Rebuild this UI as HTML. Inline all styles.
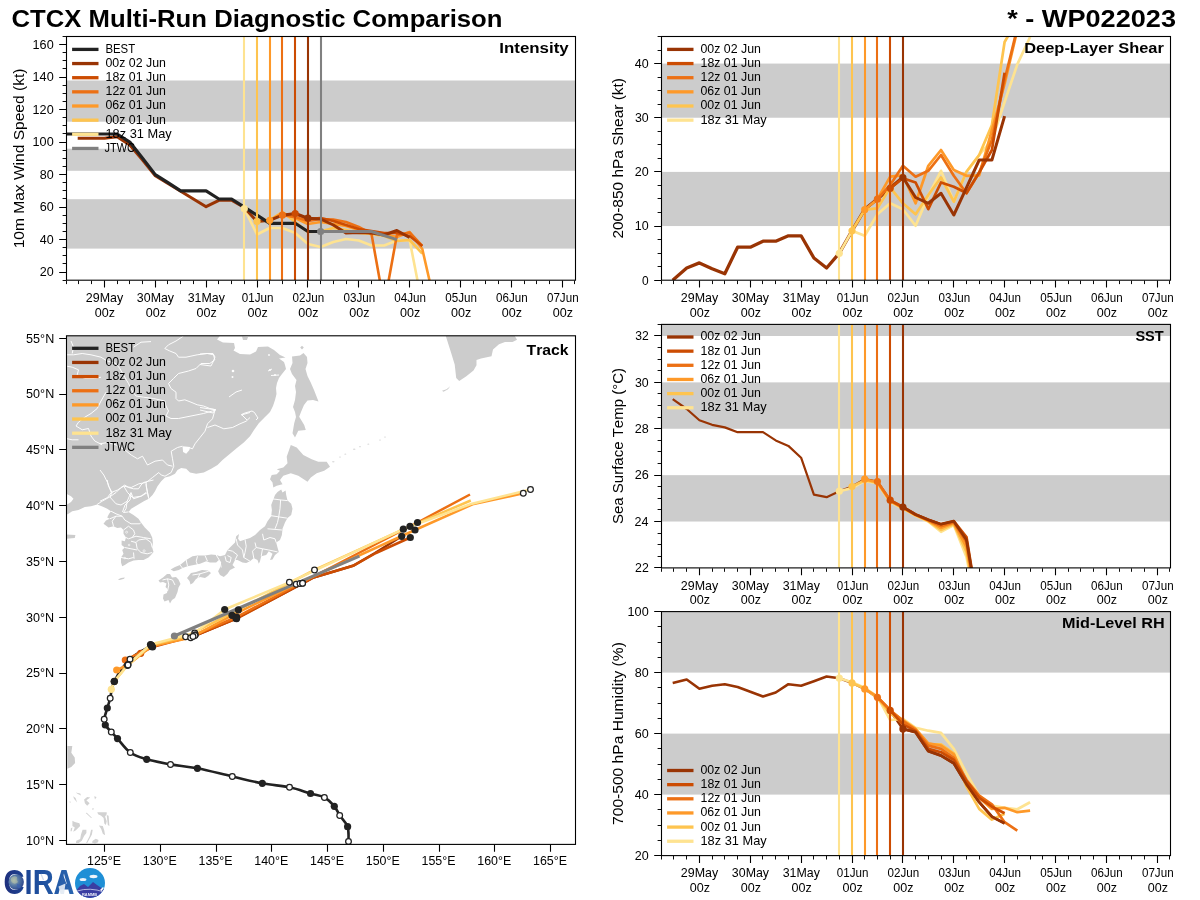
<!DOCTYPE html>
<html><head><meta charset="utf-8"><title>CTCX Multi-Run Diagnostic Comparison - WP022023</title>
<style>html,body{margin:0;padding:0;background:#fff}body{width:1200px;height:900px;overflow:hidden;font-family:"Liberation Sans",sans-serif}svg{display:block;will-change:transform}text{font-kerning:none;font-family:"Liberation Sans",sans-serif}</style></head>
<body>
<svg width="1200" height="900" viewBox="0 0 1200 900" font-family="'Liberation Sans', sans-serif">
<rect width="1200" height="900" fill="#fff"/>
<text x="11.55" y="27.00" font-size="23.44" textLength="490.90" lengthAdjust="spacingAndGlyphs" font-weight="bold">CTCX Multi-Run Diagnostic Comparison</text>
<text x="1007.24" y="27.00" font-size="23.56" textLength="168.74" lengthAdjust="spacingAndGlyphs" font-weight="bold">* - WP022023</text>
<clipPath id="cp_int"><rect x="66.50" y="36.50" width="509.00" height="243.70"/></clipPath>
<g clip-path="url(#cp_int)">
<rect x="66.5" y="199.2" width="509" height="49.4" fill="#cccccc"/>
<rect x="66.5" y="148.7" width="509" height="22.1" fill="#cccccc"/>
<rect x="66.5" y="80.5" width="509" height="41.2" fill="#cccccc"/>
<path d="M244.3 208.7 L257.0 234.5 L269.7 228.0 L282.4 228.0 L295.2 233.0 L307.9 244.0 L320.6 247.0 L333.3 242.0 L346.0 239.0 L358.8 240.5 L371.5 245.5 L384.2 245.5 L396.9 240.5 L409.6 240.0 L422.3 305.0" fill="none" stroke="#fee391" stroke-width="2.60" stroke-linejoin="round" />
<path d="M257.0 221.5 L269.7 220.0 L282.4 212.0 L295.2 222.0 L307.9 232.0 L320.6 231.5 L333.3 228.0 L346.0 230.0 L358.8 233.0 L371.5 234.0 L384.2 236.0 L396.9 241.0 L409.6 240.0 L422.3 253.5" fill="none" stroke="#fec44f" stroke-width="2.60" stroke-linejoin="round" />
<path d="M269.7 220.3 L282.4 213.0 L295.2 218.0 L307.9 224.0 L320.6 222.0 L333.3 224.0 L346.0 226.0 L358.8 230.0 L371.5 232.0 L384.2 234.0 L396.9 237.0 L409.6 232.0 L422.3 249.0 L435.1 305.0" fill="none" stroke="#fe9929" stroke-width="2.60" stroke-linejoin="round" />
<path d="M282.4 215.2 L295.2 217.0 L307.9 221.0 L320.6 219.0 L333.3 219.5 L346.0 222.0 L358.8 227.0 L371.5 234.0 L384.2 305.0 L396.9 235.0 L409.6 232.5 L422.3 246.0" fill="none" stroke="#ec7014" stroke-width="2.60" stroke-linejoin="round" />
<path d="M295.2 213.5 L307.9 219.0 L320.6 218.0 L333.3 221.0 L346.0 225.0 L358.8 229.0 L371.5 231.0 L384.2 233.0 L396.9 233.0 L409.6 236.0 L422.3 246.0" fill="none" stroke="#cc4c02" stroke-width="2.60" stroke-linejoin="round" />
<path d="M77.7 138.3 L91.7 138.3 L104.4 138.3 L117.1 136.7 L129.8 145.0 L142.6 160.1 L155.3 175.8 L168.0 183.5 L180.7 191.2 L193.4 199.0 L206.1 206.7 L218.9 200.3 L231.6 200.3 L244.3 207.5 L257.0 221.5 L269.7 220.3 L282.4 215.2 L295.2 213.5 L307.9 218.2 L320.6 219.0 L333.3 225.0 L346.0 233.0 L358.8 232.5 L371.5 233.0 L384.2 235.0 L396.9 230.5 L409.6 237.5" fill="none" stroke="#993404" stroke-width="3.00" stroke-linejoin="round" />
<path d="M66.2 134.0 L79.0 134.0 L91.7 134.0 L104.4 134.0 L117.1 134.0 L129.8 142.1 L142.6 158.3 L155.3 174.6 L168.0 182.7 L180.7 190.8 L193.4 190.8 L206.1 190.8 L218.9 199.0 L231.6 199.0 L244.3 207.1 L257.0 215.2 L269.7 223.3 L282.4 223.3 L295.2 223.3 L307.9 231.5 L320.6 231.5" fill="none" stroke="#222222" stroke-width="3.15" stroke-linejoin="round" />
<path d="M320.6 231.5 L371.5 231.5 L396.9 239.6" fill="none" stroke="#808080" stroke-width="3.00" stroke-linejoin="round" />
<path d="M244.00 36.50V280.20" stroke="#fee391" stroke-width="2.08" fill="none"/>
<path d="M257.00 36.50V280.20" stroke="#fec44f" stroke-width="2.08" fill="none"/>
<path d="M270.00 36.50V280.20" stroke="#fe9929" stroke-width="2.08" fill="none"/>
<path d="M282.00 36.50V280.20" stroke="#ec7014" stroke-width="2.08" fill="none"/>
<path d="M295.00 36.50V280.20" stroke="#cc4c02" stroke-width="2.08" fill="none"/>
<path d="M308.00 36.50V280.20" stroke="#993404" stroke-width="2.08" fill="none"/>
<path d="M321.00 36.50V280.20" stroke="#808080" stroke-width="2.08" fill="none"/>
<circle cx="244.3" cy="208.7" r="3.60" fill="#fee391"/>
<circle cx="257.0" cy="221.5" r="3.60" fill="#fec44f"/>
<circle cx="269.7" cy="220.3" r="3.60" fill="#fe9929"/>
<circle cx="282.4" cy="215.2" r="3.60" fill="#ec7014"/>
<circle cx="295.2" cy="213.5" r="3.60" fill="#cc4c02"/>
<circle cx="307.9" cy="218.2" r="3.60" fill="#993404"/>
<circle cx="320.6" cy="231.5" r="3.60" fill="#808080"/>
</g>
<rect x="66.50" y="36.50" width="509.00" height="243.70" fill="none" stroke="#000" stroke-width="1.1"/>
<path d="M104.50 280.60v6.9M155.50 280.60v6.9M206.50 280.60v6.9M257.50 280.60v6.9M307.50 280.60v6.9M358.50 280.60v6.9M409.50 280.60v6.9M460.50 280.60v6.9M511.50 280.60v6.9M562.50 280.60v6.9" stroke="#000" stroke-width="1.1" fill="none"/>
<path d="M66.50 280.60v3.5M78.50 280.60v3.5M91.50 280.60v3.5M117.50 280.60v3.5M129.50 280.60v3.5M142.50 280.60v3.5M167.50 280.60v3.5M180.50 280.60v3.5M193.50 280.60v3.5M218.50 280.60v3.5M231.50 280.60v3.5M244.50 280.60v3.5M269.50 280.60v3.5M282.50 280.60v3.5M295.50 280.60v3.5M320.50 280.60v3.5M333.50 280.60v3.5M346.50 280.60v3.5M371.50 280.60v3.5M384.50 280.60v3.5M396.50 280.60v3.5M422.50 280.60v3.5M435.50 280.60v3.5M447.50 280.60v3.5M473.50 280.60v3.5M485.50 280.60v3.5M498.50 280.60v3.5M524.50 280.60v3.5M536.50 280.60v3.5M549.50 280.60v3.5M574.50 280.60v3.5" stroke="#000" stroke-width="0.95" fill="none"/>
<text x="85.83" y="302.00" font-size="12.17" textLength="37.35" lengthAdjust="spacingAndGlyphs">29May</text>
<text x="94.84" y="316.70" font-size="12.17" textLength="20.26" lengthAdjust="spacingAndGlyphs">00z</text>
<text x="136.87" y="302.00" font-size="12.17" textLength="37.16" lengthAdjust="spacingAndGlyphs">30May</text>
<text x="145.71" y="316.70" font-size="12.17" textLength="20.26" lengthAdjust="spacingAndGlyphs">00z</text>
<text x="187.74" y="302.00" font-size="12.17" textLength="37.16" lengthAdjust="spacingAndGlyphs">31May</text>
<text x="196.58" y="316.70" font-size="12.17" textLength="20.26" lengthAdjust="spacingAndGlyphs">00z</text>
<text x="241.74" y="302.00" font-size="12.17" textLength="31.64" lengthAdjust="spacingAndGlyphs">01Jun</text>
<text x="247.45" y="316.70" font-size="12.17" textLength="20.26" lengthAdjust="spacingAndGlyphs">00z</text>
<text x="292.61" y="302.00" font-size="12.17" textLength="31.64" lengthAdjust="spacingAndGlyphs">02Jun</text>
<text x="298.32" y="316.70" font-size="12.17" textLength="20.26" lengthAdjust="spacingAndGlyphs">00z</text>
<text x="343.48" y="302.00" font-size="12.17" textLength="31.64" lengthAdjust="spacingAndGlyphs">03Jun</text>
<text x="349.19" y="316.70" font-size="12.17" textLength="20.26" lengthAdjust="spacingAndGlyphs">00z</text>
<text x="394.35" y="302.00" font-size="12.17" textLength="31.64" lengthAdjust="spacingAndGlyphs">04Jun</text>
<text x="400.06" y="316.70" font-size="12.17" textLength="20.26" lengthAdjust="spacingAndGlyphs">00z</text>
<text x="445.22" y="302.00" font-size="12.17" textLength="31.64" lengthAdjust="spacingAndGlyphs">05Jun</text>
<text x="450.93" y="316.70" font-size="12.17" textLength="20.26" lengthAdjust="spacingAndGlyphs">00z</text>
<text x="496.09" y="302.00" font-size="12.17" textLength="31.64" lengthAdjust="spacingAndGlyphs">06Jun</text>
<text x="501.80" y="316.70" font-size="12.17" textLength="20.26" lengthAdjust="spacingAndGlyphs">00z</text>
<text x="546.96" y="302.00" font-size="12.17" textLength="31.64" lengthAdjust="spacingAndGlyphs">07Jun</text>
<text x="552.67" y="316.70" font-size="12.17" textLength="20.26" lengthAdjust="spacingAndGlyphs">00z</text>
<path d="M66.10 272.50h-6.9M66.10 239.50h-6.9M66.10 207.50h-6.9M66.10 174.50h-6.9M66.10 142.50h-6.9M66.10 109.50h-6.9M66.10 77.50h-6.9M66.10 44.50h-6.9" stroke="#000" stroke-width="1.1" fill="none"/>
<path d="M66.10 280.50h-3.5M66.10 263.50h-3.5M66.10 255.50h-3.5M66.10 247.50h-3.5M66.10 231.50h-3.5M66.10 223.50h-3.5M66.10 215.50h-3.5M66.10 198.50h-3.5M66.10 190.50h-3.5M66.10 182.50h-3.5M66.10 166.50h-3.5M66.10 158.50h-3.5M66.10 150.50h-3.5M66.10 133.50h-3.5M66.10 125.50h-3.5M66.10 117.50h-3.5M66.10 101.50h-3.5M66.10 93.50h-3.5M66.10 85.50h-3.5M66.10 68.50h-3.5M66.10 60.50h-3.5M66.10 52.50h-3.5M66.10 36.50h-3.5" stroke="#000" stroke-width="0.95" fill="none"/>
<text x="39.72" y="276.38" font-size="12.17" textLength="13.97" lengthAdjust="spacingAndGlyphs">20</text>
<text x="39.79" y="243.88" font-size="12.17" textLength="13.89" lengthAdjust="spacingAndGlyphs">40</text>
<text x="39.68" y="211.39" font-size="12.17" textLength="14.01" lengthAdjust="spacingAndGlyphs">60</text>
<text x="39.75" y="178.90" font-size="12.17" textLength="13.94" lengthAdjust="spacingAndGlyphs">80</text>
<text x="32.59" y="146.40" font-size="12.17" textLength="21.10" lengthAdjust="spacingAndGlyphs">100</text>
<text x="32.59" y="113.91" font-size="12.17" textLength="21.10" lengthAdjust="spacingAndGlyphs">120</text>
<text x="32.59" y="81.42" font-size="12.17" textLength="21.10" lengthAdjust="spacingAndGlyphs">140</text>
<text x="32.59" y="48.92" font-size="12.17" textLength="21.10" lengthAdjust="spacingAndGlyphs">160</text>
<text x="-66.39" y="158.35" font-size="14.61" textLength="179.77" lengthAdjust="spacingAndGlyphs" transform="rotate(-90 23.60 158.35)">10m Max Wind Speed (kt)</text>
<text x="499.28" y="52.90" font-size="14.61" textLength="69.41" lengthAdjust="spacingAndGlyphs" font-weight="bold">Intensity</text>
<path d="M73.75 49.40H96.85" stroke="#222222" stroke-width="3.3" stroke-linecap="square" fill="none"/>
<text x="105.40" y="52.80" font-size="12.17" textLength="29.75" lengthAdjust="spacingAndGlyphs">BEST</text>
<path d="M73.75 63.55H96.85" stroke="#993404" stroke-width="3.3" stroke-linecap="square" fill="none"/>
<text x="105.48" y="66.95" font-size="12.17" textLength="60.49" lengthAdjust="spacingAndGlyphs">00z 02 Jun</text>
<path d="M73.75 77.70H96.85" stroke="#cc4c02" stroke-width="3.3" stroke-linecap="square" fill="none"/>
<text x="105.53" y="81.10" font-size="12.17" textLength="60.44" lengthAdjust="spacingAndGlyphs">18z 01 Jun</text>
<path d="M73.75 91.85H96.85" stroke="#ec7014" stroke-width="3.3" stroke-linecap="square" fill="none"/>
<text x="105.53" y="95.25" font-size="12.17" textLength="60.44" lengthAdjust="spacingAndGlyphs">12z 01 Jun</text>
<path d="M73.75 106.00H96.85" stroke="#fe9929" stroke-width="3.3" stroke-linecap="square" fill="none"/>
<text x="105.48" y="109.40" font-size="12.17" textLength="60.49" lengthAdjust="spacingAndGlyphs">06z 01 Jun</text>
<path d="M73.75 120.15H96.85" stroke="#fec44f" stroke-width="3.3" stroke-linecap="square" fill="none"/>
<text x="105.48" y="123.55" font-size="12.17" textLength="60.49" lengthAdjust="spacingAndGlyphs">00z 01 Jun</text>
<path d="M73.75 134.30H96.85" stroke="#fee391" stroke-width="3.3" stroke-linecap="square" fill="none"/>
<text x="105.50" y="137.70" font-size="12.17" textLength="66.17" lengthAdjust="spacingAndGlyphs">18z 31 May</text>
<path d="M73.75 148.45H96.85" stroke="#808080" stroke-width="3.3" stroke-linecap="square" fill="none"/>
<text x="104.43" y="151.85" font-size="12.17" textLength="30.56" lengthAdjust="spacingAndGlyphs">JTWC</text>
<clipPath id="cp_shr"><rect x="661.50" y="36.50" width="509.00" height="243.70"/></clipPath>
<g clip-path="url(#cp_shr)">
<rect x="661.50" y="171.89" width="509.00" height="54.16" fill="#cccccc"/>
<rect x="661.50" y="63.58" width="509.00" height="54.16" fill="#cccccc"/>
<path d="M672.7 280.2 L686.7 268.0 L699.4 262.9 L712.1 268.8 L724.8 273.7 L737.6 247.2 L750.3 247.2 L763.0 241.2 L775.7 241.2 L788.4 235.8 L801.1 235.8 L813.9 258.0 L826.6 268.0 L839.3 253.1 L852.0 230.9 L864.7 209.3 L877.4 199.0 L890.2 188.1 L902.9 177.3" fill="none" stroke="#993404" stroke-width="3.30" stroke-linejoin="round" />
<path d="M839.3 253.3 L852.0 230.8 L864.7 235.8 L877.4 214.2 L890.2 203.3 L902.9 209.2 L915.6 225.8 L928.3 195.8 L941.0 170.8 L953.8 201.7 L966.5 171.7 L979.2 155.0 L991.9 140.0 L1004.6 102.0 L1017.3 64.4 L1030.1 37.0" fill="none" stroke="#fee391" stroke-width="2.70" stroke-linejoin="round" />
<path d="M852.0 230.8 L864.7 209.7 L877.4 208.3 L890.2 187.5 L902.9 203.3 L915.6 214.2 L928.3 195.0 L941.0 177.5 L953.8 201.7 L966.5 171.7 L979.2 155.0 L991.9 125.0 L1004.6 42.0 L1017.3 20.0" fill="none" stroke="#fec44f" stroke-width="2.70" stroke-linejoin="round" />
<path d="M864.7 209.7 L877.4 199.2 L890.2 176.7 L902.9 175.3 L915.6 203.3 L928.3 165.8 L941.0 150.0 L953.8 170.0 L966.5 175.8 L979.2 175.3 L991.9 130.0 L1004.6 84.0 L1017.3 30.0" fill="none" stroke="#fe9929" stroke-width="2.70" stroke-linejoin="round" />
<path d="M877.4 199.2 L890.2 185.0 L902.9 165.8 L915.6 176.7 L928.3 170.8 L941.0 155.0 L953.8 175.8 L966.5 193.3 L979.2 172.5 L991.9 140.0 L1004.6 80.0 L1017.3 28.0" fill="none" stroke="#ec7014" stroke-width="2.70" stroke-linejoin="round" />
<path d="M890.2 188.3 L902.9 178.3 L915.6 182.5 L928.3 209.2 L941.0 182.5 L953.8 186.7 L966.5 193.0 L979.2 172.5 L991.9 150.0 L1004.6 72.8" fill="none" stroke="#cc4c02" stroke-width="2.70" stroke-linejoin="round" />
<path d="M902.9 177.3 L915.6 197.5 L928.3 203.3 L941.0 193.3 L953.8 215.0 L966.5 187.7 L979.2 160.0 L991.9 160.0 L1004.6 116.1" fill="none" stroke="#993404" stroke-width="3.00" stroke-linejoin="round" />
<path d="M839.00 36.50V280.20" stroke="#fee391" stroke-width="2.08" fill="none"/>
<path d="M852.00 36.50V280.20" stroke="#fec44f" stroke-width="2.08" fill="none"/>
<path d="M865.00 36.50V280.20" stroke="#fe9929" stroke-width="2.08" fill="none"/>
<path d="M877.00 36.50V280.20" stroke="#ec7014" stroke-width="2.08" fill="none"/>
<path d="M890.00 36.50V280.20" stroke="#cc4c02" stroke-width="2.08" fill="none"/>
<path d="M903.00 36.50V280.20" stroke="#993404" stroke-width="2.08" fill="none"/>
<circle cx="839.3" cy="253.3" r="3.60" fill="#fee391"/>
<circle cx="852.0" cy="230.8" r="3.60" fill="#fec44f"/>
<circle cx="864.7" cy="209.7" r="3.60" fill="#fe9929"/>
<circle cx="877.4" cy="199.2" r="3.60" fill="#ec7014"/>
<circle cx="890.2" cy="188.3" r="3.60" fill="#cc4c02"/>
<circle cx="902.9" cy="177.5" r="3.60" fill="#993404"/>
</g>
<rect x="661.50" y="36.50" width="509.00" height="243.70" fill="none" stroke="#000" stroke-width="1.1"/>
<path d="M699.50 280.60v6.9M750.50 280.60v6.9M801.50 280.60v6.9M852.50 280.60v6.9M902.50 280.60v6.9M953.50 280.60v6.9M1004.50 280.60v6.9M1055.50 280.60v6.9M1106.50 280.60v6.9M1157.50 280.60v6.9" stroke="#000" stroke-width="1.1" fill="none"/>
<path d="M661.50 280.60v3.5M673.50 280.60v3.5M686.50 280.60v3.5M712.50 280.60v3.5M724.50 280.60v3.5M737.50 280.60v3.5M762.50 280.60v3.5M775.50 280.60v3.5M788.50 280.60v3.5M813.50 280.60v3.5M826.50 280.60v3.5M839.50 280.60v3.5M864.50 280.60v3.5M877.50 280.60v3.5M890.50 280.60v3.5M915.50 280.60v3.5M928.50 280.60v3.5M941.50 280.60v3.5M966.50 280.60v3.5M979.50 280.60v3.5M991.50 280.60v3.5M1017.50 280.60v3.5M1030.50 280.60v3.5M1042.50 280.60v3.5M1068.50 280.60v3.5M1080.50 280.60v3.5M1093.50 280.60v3.5M1119.50 280.60v3.5M1131.50 280.60v3.5M1144.50 280.60v3.5M1169.50 280.60v3.5" stroke="#000" stroke-width="0.95" fill="none"/>
<text x="680.83" y="302.00" font-size="12.17" textLength="37.35" lengthAdjust="spacingAndGlyphs">29May</text>
<text x="689.84" y="316.70" font-size="12.17" textLength="20.26" lengthAdjust="spacingAndGlyphs">00z</text>
<text x="731.87" y="302.00" font-size="12.17" textLength="37.16" lengthAdjust="spacingAndGlyphs">30May</text>
<text x="740.71" y="316.70" font-size="12.17" textLength="20.26" lengthAdjust="spacingAndGlyphs">00z</text>
<text x="782.74" y="302.00" font-size="12.17" textLength="37.16" lengthAdjust="spacingAndGlyphs">31May</text>
<text x="791.58" y="316.70" font-size="12.17" textLength="20.26" lengthAdjust="spacingAndGlyphs">00z</text>
<text x="836.74" y="302.00" font-size="12.17" textLength="31.64" lengthAdjust="spacingAndGlyphs">01Jun</text>
<text x="842.45" y="316.70" font-size="12.17" textLength="20.26" lengthAdjust="spacingAndGlyphs">00z</text>
<text x="887.61" y="302.00" font-size="12.17" textLength="31.64" lengthAdjust="spacingAndGlyphs">02Jun</text>
<text x="893.32" y="316.70" font-size="12.17" textLength="20.26" lengthAdjust="spacingAndGlyphs">00z</text>
<text x="938.48" y="302.00" font-size="12.17" textLength="31.64" lengthAdjust="spacingAndGlyphs">03Jun</text>
<text x="944.19" y="316.70" font-size="12.17" textLength="20.26" lengthAdjust="spacingAndGlyphs">00z</text>
<text x="989.35" y="302.00" font-size="12.17" textLength="31.64" lengthAdjust="spacingAndGlyphs">04Jun</text>
<text x="995.06" y="316.70" font-size="12.17" textLength="20.26" lengthAdjust="spacingAndGlyphs">00z</text>
<text x="1040.22" y="302.00" font-size="12.17" textLength="31.64" lengthAdjust="spacingAndGlyphs">05Jun</text>
<text x="1045.93" y="316.70" font-size="12.17" textLength="20.26" lengthAdjust="spacingAndGlyphs">00z</text>
<text x="1091.09" y="302.00" font-size="12.17" textLength="31.64" lengthAdjust="spacingAndGlyphs">06Jun</text>
<text x="1096.80" y="316.70" font-size="12.17" textLength="20.26" lengthAdjust="spacingAndGlyphs">00z</text>
<text x="1141.96" y="302.00" font-size="12.17" textLength="31.64" lengthAdjust="spacingAndGlyphs">07Jun</text>
<text x="1147.67" y="316.70" font-size="12.17" textLength="20.26" lengthAdjust="spacingAndGlyphs">00z</text>
<path d="M661.10 280.50h-6.9M661.10 226.50h-6.9M661.10 171.50h-6.9M661.10 117.50h-6.9M661.10 63.50h-6.9" stroke="#000" stroke-width="1.1" fill="none"/>
<path d="M661.10 266.50h-3.5M661.10 253.50h-3.5M661.10 239.50h-3.5M661.10 212.50h-3.5M661.10 198.50h-3.5M661.10 185.50h-3.5M661.10 158.50h-3.5M661.10 144.50h-3.5M661.10 131.50h-3.5M661.10 104.50h-3.5M661.10 90.50h-3.5M661.10 77.50h-3.5M661.10 50.50h-3.5M661.10 36.50h-3.5" stroke="#000" stroke-width="0.95" fill="none"/>
<text x="642.02" y="284.50" font-size="12.17" textLength="6.65" lengthAdjust="spacingAndGlyphs">0</text>
<text x="634.82" y="230.34" font-size="12.17" textLength="13.87" lengthAdjust="spacingAndGlyphs">10</text>
<text x="634.72" y="176.19" font-size="12.17" textLength="13.97" lengthAdjust="spacingAndGlyphs">20</text>
<text x="634.92" y="122.03" font-size="12.17" textLength="13.76" lengthAdjust="spacingAndGlyphs">30</text>
<text x="634.79" y="67.88" font-size="12.17" textLength="13.89" lengthAdjust="spacingAndGlyphs">40</text>
<text x="543.10" y="158.35" font-size="14.61" textLength="160.57" lengthAdjust="spacingAndGlyphs" transform="rotate(-90 623.30 158.35)">200-850 hPa Shear (kt)</text>
<text x="1024.26" y="52.90" font-size="14.61" textLength="139.58" lengthAdjust="spacingAndGlyphs" font-weight="bold">Deep-Layer Shear</text>
<path d="M668.75 49.40H691.85" stroke="#993404" stroke-width="3.3" stroke-linecap="square" fill="none"/>
<text x="700.48" y="52.80" font-size="12.17" textLength="60.49" lengthAdjust="spacingAndGlyphs">00z 02 Jun</text>
<path d="M668.75 63.55H691.85" stroke="#cc4c02" stroke-width="3.3" stroke-linecap="square" fill="none"/>
<text x="700.53" y="66.95" font-size="12.17" textLength="60.44" lengthAdjust="spacingAndGlyphs">18z 01 Jun</text>
<path d="M668.75 77.70H691.85" stroke="#ec7014" stroke-width="3.3" stroke-linecap="square" fill="none"/>
<text x="700.53" y="81.10" font-size="12.17" textLength="60.44" lengthAdjust="spacingAndGlyphs">12z 01 Jun</text>
<path d="M668.75 91.85H691.85" stroke="#fe9929" stroke-width="3.3" stroke-linecap="square" fill="none"/>
<text x="700.48" y="95.25" font-size="12.17" textLength="60.49" lengthAdjust="spacingAndGlyphs">06z 01 Jun</text>
<path d="M668.75 106.00H691.85" stroke="#fec44f" stroke-width="3.3" stroke-linecap="square" fill="none"/>
<text x="700.48" y="109.40" font-size="12.17" textLength="60.49" lengthAdjust="spacingAndGlyphs">00z 01 Jun</text>
<path d="M668.75 120.15H691.85" stroke="#fee391" stroke-width="3.3" stroke-linecap="square" fill="none"/>
<text x="700.50" y="123.55" font-size="12.17" textLength="66.17" lengthAdjust="spacingAndGlyphs">18z 31 May</text>
<clipPath id="cp_sst"><rect x="661.50" y="324.40" width="509.00" height="243.50"/></clipPath>
<g clip-path="url(#cp_sst)">
<rect x="661.50" y="475.14" width="509.00" height="46.38" fill="#cccccc"/>
<rect x="661.50" y="382.38" width="509.00" height="46.38" fill="#cccccc"/>
<rect x="661.50" y="324.40" width="509.00" height="11.60" fill="#cccccc"/>
<path d="M672.7 399.1 L686.7 409.0 L699.4 420.2 L712.1 424.8 L724.8 427.4 L737.6 432.2 L750.3 432.2 L763.0 432.2 L775.7 440.4 L788.4 445.9 L801.1 457.7 L813.9 494.6 L826.6 497.2 L839.3 491.2 L852.0 486.5 L864.7 479.2 L877.4 481.5 L890.2 500.2 L902.9 507.0 L915.6 514.5 L928.3 519.8 L941.0 524.2 L953.8 521.2 L966.5 540.0 L979.2 615.0" fill="none" stroke="#993404" stroke-width="2.20" stroke-linejoin="round" />
<path d="M839.3 491.2 L852.0 488.1 L864.7 480.9 L877.4 483.1 L890.2 501.9 L902.9 508.6 L915.6 515.5 L928.3 521.5 L941.0 531.8 L953.8 525.0 L966.5 557.0 L979.2 620.0" fill="none" stroke="#fee391" stroke-width="2.70" stroke-linejoin="round" />
<path d="M852.0 486.5 L864.7 480.4 L877.4 482.7 L890.2 501.4 L902.9 508.2 L915.6 515.2 L928.3 521.1 L941.0 529.9 L953.8 524.1 L966.5 552.0 L979.2 618.8" fill="none" stroke="#fec44f" stroke-width="2.70" stroke-linejoin="round" />
<path d="M864.7 479.2 L877.4 482.3 L890.2 501.1 L902.9 507.8 L915.6 515.0 L928.3 520.6 L941.0 528.0 L953.8 523.1 L966.5 547.0 L979.2 617.5" fill="none" stroke="#fe9929" stroke-width="2.70" stroke-linejoin="round" />
<path d="M877.4 481.5 L890.2 500.6 L902.9 507.4 L915.6 514.8 L928.3 520.2 L941.0 526.1 L953.8 522.2 L966.5 542.0 L979.2 616.2" fill="none" stroke="#ec7014" stroke-width="2.70" stroke-linejoin="round" />
<path d="M890.2 500.2 L902.9 507.0 L915.6 514.5 L928.3 519.8 L941.0 524.2 L953.8 521.2 L966.5 537.0 L979.2 615.0" fill="none" stroke="#cc4c02" stroke-width="2.70" stroke-linejoin="round" />
<path d="M902.9 507.0 L915.6 514.5 L928.3 519.8 L941.0 524.2 L953.8 521.2 L966.5 540.0 L979.2 615.0" fill="none" stroke="#993404" stroke-width="2.80" stroke-linejoin="round" />
<path d="M839.00 324.40V567.90" stroke="#fee391" stroke-width="2.08" fill="none"/>
<path d="M852.00 324.40V567.90" stroke="#fec44f" stroke-width="2.08" fill="none"/>
<path d="M865.00 324.40V567.90" stroke="#fe9929" stroke-width="2.08" fill="none"/>
<path d="M877.00 324.40V567.90" stroke="#ec7014" stroke-width="2.08" fill="none"/>
<path d="M890.00 324.40V567.90" stroke="#cc4c02" stroke-width="2.08" fill="none"/>
<path d="M903.00 324.40V567.90" stroke="#993404" stroke-width="2.08" fill="none"/>
<circle cx="839.3" cy="491.2" r="3.60" fill="#fee391"/>
<circle cx="852.0" cy="486.5" r="3.60" fill="#fec44f"/>
<circle cx="864.7" cy="479.2" r="3.60" fill="#fe9929"/>
<circle cx="877.4" cy="481.5" r="3.60" fill="#ec7014"/>
<circle cx="890.2" cy="500.2" r="3.60" fill="#cc4c02"/>
<circle cx="902.9" cy="507.0" r="3.60" fill="#993404"/>
</g>
<rect x="661.50" y="324.40" width="509.00" height="243.50" fill="none" stroke="#000" stroke-width="1.1"/>
<path d="M699.50 568.30v6.9M750.50 568.30v6.9M801.50 568.30v6.9M852.50 568.30v6.9M902.50 568.30v6.9M953.50 568.30v6.9M1004.50 568.30v6.9M1055.50 568.30v6.9M1106.50 568.30v6.9M1157.50 568.30v6.9" stroke="#000" stroke-width="1.1" fill="none"/>
<path d="M661.50 568.30v3.5M673.50 568.30v3.5M686.50 568.30v3.5M712.50 568.30v3.5M724.50 568.30v3.5M737.50 568.30v3.5M762.50 568.30v3.5M775.50 568.30v3.5M788.50 568.30v3.5M813.50 568.30v3.5M826.50 568.30v3.5M839.50 568.30v3.5M864.50 568.30v3.5M877.50 568.30v3.5M890.50 568.30v3.5M915.50 568.30v3.5M928.50 568.30v3.5M941.50 568.30v3.5M966.50 568.30v3.5M979.50 568.30v3.5M991.50 568.30v3.5M1017.50 568.30v3.5M1030.50 568.30v3.5M1042.50 568.30v3.5M1068.50 568.30v3.5M1080.50 568.30v3.5M1093.50 568.30v3.5M1119.50 568.30v3.5M1131.50 568.30v3.5M1144.50 568.30v3.5M1169.50 568.30v3.5" stroke="#000" stroke-width="0.95" fill="none"/>
<text x="680.83" y="589.70" font-size="12.17" textLength="37.35" lengthAdjust="spacingAndGlyphs">29May</text>
<text x="689.84" y="604.40" font-size="12.17" textLength="20.26" lengthAdjust="spacingAndGlyphs">00z</text>
<text x="731.87" y="589.70" font-size="12.17" textLength="37.16" lengthAdjust="spacingAndGlyphs">30May</text>
<text x="740.71" y="604.40" font-size="12.17" textLength="20.26" lengthAdjust="spacingAndGlyphs">00z</text>
<text x="782.74" y="589.70" font-size="12.17" textLength="37.16" lengthAdjust="spacingAndGlyphs">31May</text>
<text x="791.58" y="604.40" font-size="12.17" textLength="20.26" lengthAdjust="spacingAndGlyphs">00z</text>
<text x="836.74" y="589.70" font-size="12.17" textLength="31.64" lengthAdjust="spacingAndGlyphs">01Jun</text>
<text x="842.45" y="604.40" font-size="12.17" textLength="20.26" lengthAdjust="spacingAndGlyphs">00z</text>
<text x="887.61" y="589.70" font-size="12.17" textLength="31.64" lengthAdjust="spacingAndGlyphs">02Jun</text>
<text x="893.32" y="604.40" font-size="12.17" textLength="20.26" lengthAdjust="spacingAndGlyphs">00z</text>
<text x="938.48" y="589.70" font-size="12.17" textLength="31.64" lengthAdjust="spacingAndGlyphs">03Jun</text>
<text x="944.19" y="604.40" font-size="12.17" textLength="20.26" lengthAdjust="spacingAndGlyphs">00z</text>
<text x="989.35" y="589.70" font-size="12.17" textLength="31.64" lengthAdjust="spacingAndGlyphs">04Jun</text>
<text x="995.06" y="604.40" font-size="12.17" textLength="20.26" lengthAdjust="spacingAndGlyphs">00z</text>
<text x="1040.22" y="589.70" font-size="12.17" textLength="31.64" lengthAdjust="spacingAndGlyphs">05Jun</text>
<text x="1045.93" y="604.40" font-size="12.17" textLength="20.26" lengthAdjust="spacingAndGlyphs">00z</text>
<text x="1091.09" y="589.70" font-size="12.17" textLength="31.64" lengthAdjust="spacingAndGlyphs">06Jun</text>
<text x="1096.80" y="604.40" font-size="12.17" textLength="20.26" lengthAdjust="spacingAndGlyphs">00z</text>
<text x="1141.96" y="589.70" font-size="12.17" textLength="31.64" lengthAdjust="spacingAndGlyphs">07Jun</text>
<text x="1147.67" y="604.40" font-size="12.17" textLength="20.26" lengthAdjust="spacingAndGlyphs">00z</text>
<path d="M661.10 567.50h-6.9M661.10 521.50h-6.9M661.10 475.50h-6.9M661.10 428.50h-6.9M661.10 382.50h-6.9M661.10 335.50h-6.9" stroke="#000" stroke-width="1.1" fill="none"/>
<path d="M661.10 556.50h-3.5M661.10 544.50h-3.5M661.10 533.50h-3.5M661.10 509.50h-3.5M661.10 498.50h-3.5M661.10 486.50h-3.5M661.10 463.50h-3.5M661.10 451.50h-3.5M661.10 440.50h-3.5M661.10 417.50h-3.5M661.10 405.50h-3.5M661.10 393.50h-3.5M661.10 370.50h-3.5M661.10 359.50h-3.5M661.10 347.50h-3.5M661.10 324.50h-3.5" stroke="#000" stroke-width="0.95" fill="none"/>
<text x="635.12" y="572.20" font-size="12.17" textLength="13.70" lengthAdjust="spacingAndGlyphs">22</text>
<text x="634.61" y="525.82" font-size="12.17" textLength="13.96" lengthAdjust="spacingAndGlyphs">24</text>
<text x="634.68" y="479.44" font-size="12.17" textLength="14.08" lengthAdjust="spacingAndGlyphs">26</text>
<text x="634.75" y="433.06" font-size="12.17" textLength="14.00" lengthAdjust="spacingAndGlyphs">28</text>
<text x="634.92" y="386.68" font-size="12.17" textLength="13.76" lengthAdjust="spacingAndGlyphs">30</text>
<text x="635.31" y="340.30" font-size="12.17" textLength="13.50" lengthAdjust="spacingAndGlyphs">32</text>
<text x="545.41" y="446.15" font-size="14.61" textLength="156.02" lengthAdjust="spacingAndGlyphs" transform="rotate(-90 623.30 446.15)">Sea Surface Temp (°C)</text>
<text x="1135.40" y="340.80" font-size="14.61" textLength="28.36" lengthAdjust="spacingAndGlyphs" font-weight="bold">SST</text>
<path d="M668.75 337.00H691.85" stroke="#993404" stroke-width="3.3" stroke-linecap="square" fill="none"/>
<text x="700.48" y="340.40" font-size="12.17" textLength="60.49" lengthAdjust="spacingAndGlyphs">00z 02 Jun</text>
<path d="M668.75 351.15H691.85" stroke="#cc4c02" stroke-width="3.3" stroke-linecap="square" fill="none"/>
<text x="700.53" y="354.55" font-size="12.17" textLength="60.44" lengthAdjust="spacingAndGlyphs">18z 01 Jun</text>
<path d="M668.75 365.30H691.85" stroke="#ec7014" stroke-width="3.3" stroke-linecap="square" fill="none"/>
<text x="700.53" y="368.70" font-size="12.17" textLength="60.44" lengthAdjust="spacingAndGlyphs">12z 01 Jun</text>
<path d="M668.75 379.45H691.85" stroke="#fe9929" stroke-width="3.3" stroke-linecap="square" fill="none"/>
<text x="700.48" y="382.85" font-size="12.17" textLength="60.49" lengthAdjust="spacingAndGlyphs">06z 01 Jun</text>
<path d="M668.75 393.60H691.85" stroke="#fec44f" stroke-width="3.3" stroke-linecap="square" fill="none"/>
<text x="700.48" y="397.00" font-size="12.17" textLength="60.49" lengthAdjust="spacingAndGlyphs">00z 01 Jun</text>
<path d="M668.75 407.75H691.85" stroke="#fee391" stroke-width="3.3" stroke-linecap="square" fill="none"/>
<text x="700.50" y="411.15" font-size="12.17" textLength="66.17" lengthAdjust="spacingAndGlyphs">18z 31 May</text>
<clipPath id="cp_rh"><rect x="661.50" y="611.60" width="509.00" height="244.00"/></clipPath>
<g clip-path="url(#cp_rh)">
<rect x="661.50" y="733.60" width="509.00" height="61.00" fill="#cccccc"/>
<rect x="661.50" y="611.60" width="509.00" height="61.00" fill="#cccccc"/>
<path d="M672.7 683.0 L686.7 679.5 L699.4 688.8 L712.1 685.8 L724.8 684.2 L737.6 687.0 L750.3 691.8 L763.0 696.5 L775.7 692.5 L788.4 684.2 L801.1 685.8 L813.9 681.2 L826.6 676.5 L839.3 678.2 L852.0 682.9 L864.7 688.9 L877.4 697.3 L890.2 710.4 L902.9 728.9 L915.6 732.2 L928.3 751.1 L941.0 755.6 L953.8 763.3 L966.5 784.4 L979.2 802.2 L991.9 816.7 L1004.6 823.3" fill="none" stroke="#993404" stroke-width="2.60" stroke-linejoin="round" />
<path d="M839.3 678.2 L852.0 682.2 L864.7 687.8 L877.4 696.7 L890.2 720.0 L902.9 718.9 L915.6 727.8 L928.3 730.7 L941.0 732.9 L953.8 748.9 L966.5 773.3 L979.2 795.6 L991.9 805.6 L1004.6 807.8 L1017.3 809.3 L1030.1 802.2" fill="none" stroke="#fee391" stroke-width="2.70" stroke-linejoin="round" />
<path d="M852.0 682.9 L864.7 688.4 L877.4 697.8 L890.2 713.3 L902.9 723.3 L915.6 730.0 L928.3 744.4 L941.0 744.4 L953.8 753.3 L966.5 786.7 L979.2 808.9 L991.9 819.6 L1004.6 813.8" fill="none" stroke="#fec44f" stroke-width="2.70" stroke-linejoin="round" />
<path d="M864.7 688.9 L877.4 696.7 L890.2 711.1 L902.9 720.0 L915.6 728.9 L928.3 743.3 L941.0 745.6 L953.8 754.4 L966.5 781.1 L979.2 797.8 L991.9 808.9 L1004.6 807.8 L1017.3 812.2 L1030.1 810.7" fill="none" stroke="#fe9929" stroke-width="2.70" stroke-linejoin="round" />
<path d="M877.4 697.3 L890.2 710.0 L902.9 721.1 L915.6 730.0 L928.3 745.6 L941.0 748.9 L953.8 757.8 L966.5 780.0 L979.2 795.6 L991.9 804.4 L1004.6 822.2 L1017.3 830.7" fill="none" stroke="#ec7014" stroke-width="2.70" stroke-linejoin="round" />
<path d="M890.2 710.4 L902.9 724.4 L915.6 731.1 L928.3 748.9 L941.0 752.2 L953.8 760.0 L966.5 781.1 L979.2 797.8 L991.9 806.7 L1004.6 813.3" fill="none" stroke="#cc4c02" stroke-width="2.70" stroke-linejoin="round" />
<path d="M902.9 728.9 L915.6 732.2 L928.3 751.1 L941.0 755.6 L953.8 763.3 L966.5 784.4 L979.2 802.2 L991.9 816.7 L1004.6 823.3" fill="none" stroke="#993404" stroke-width="2.80" stroke-linejoin="round" />
<path d="M839.00 611.60V855.60" stroke="#fee391" stroke-width="2.08" fill="none"/>
<path d="M852.00 611.60V855.60" stroke="#fec44f" stroke-width="2.08" fill="none"/>
<path d="M865.00 611.60V855.60" stroke="#fe9929" stroke-width="2.08" fill="none"/>
<path d="M877.00 611.60V855.60" stroke="#ec7014" stroke-width="2.08" fill="none"/>
<path d="M890.00 611.60V855.60" stroke="#cc4c02" stroke-width="2.08" fill="none"/>
<path d="M903.00 611.60V855.60" stroke="#993404" stroke-width="2.08" fill="none"/>
<circle cx="839.3" cy="678.2" r="3.60" fill="#fee391"/>
<circle cx="852.0" cy="682.9" r="3.60" fill="#fec44f"/>
<circle cx="864.7" cy="688.9" r="3.60" fill="#fe9929"/>
<circle cx="877.4" cy="697.3" r="3.60" fill="#ec7014"/>
<circle cx="890.2" cy="710.4" r="3.60" fill="#cc4c02"/>
<circle cx="902.9" cy="728.9" r="3.60" fill="#993404"/>
</g>
<rect x="661.50" y="611.60" width="509.00" height="244.00" fill="none" stroke="#000" stroke-width="1.1"/>
<path d="M699.50 856.00v6.9M750.50 856.00v6.9M801.50 856.00v6.9M852.50 856.00v6.9M902.50 856.00v6.9M953.50 856.00v6.9M1004.50 856.00v6.9M1055.50 856.00v6.9M1106.50 856.00v6.9M1157.50 856.00v6.9" stroke="#000" stroke-width="1.1" fill="none"/>
<path d="M661.50 856.00v3.5M673.50 856.00v3.5M686.50 856.00v3.5M712.50 856.00v3.5M724.50 856.00v3.5M737.50 856.00v3.5M762.50 856.00v3.5M775.50 856.00v3.5M788.50 856.00v3.5M813.50 856.00v3.5M826.50 856.00v3.5M839.50 856.00v3.5M864.50 856.00v3.5M877.50 856.00v3.5M890.50 856.00v3.5M915.50 856.00v3.5M928.50 856.00v3.5M941.50 856.00v3.5M966.50 856.00v3.5M979.50 856.00v3.5M991.50 856.00v3.5M1017.50 856.00v3.5M1030.50 856.00v3.5M1042.50 856.00v3.5M1068.50 856.00v3.5M1080.50 856.00v3.5M1093.50 856.00v3.5M1119.50 856.00v3.5M1131.50 856.00v3.5M1144.50 856.00v3.5M1169.50 856.00v3.5" stroke="#000" stroke-width="0.95" fill="none"/>
<text x="680.83" y="877.40" font-size="12.17" textLength="37.35" lengthAdjust="spacingAndGlyphs">29May</text>
<text x="689.84" y="892.10" font-size="12.17" textLength="20.26" lengthAdjust="spacingAndGlyphs">00z</text>
<text x="731.87" y="877.40" font-size="12.17" textLength="37.16" lengthAdjust="spacingAndGlyphs">30May</text>
<text x="740.71" y="892.10" font-size="12.17" textLength="20.26" lengthAdjust="spacingAndGlyphs">00z</text>
<text x="782.74" y="877.40" font-size="12.17" textLength="37.16" lengthAdjust="spacingAndGlyphs">31May</text>
<text x="791.58" y="892.10" font-size="12.17" textLength="20.26" lengthAdjust="spacingAndGlyphs">00z</text>
<text x="836.74" y="877.40" font-size="12.17" textLength="31.64" lengthAdjust="spacingAndGlyphs">01Jun</text>
<text x="842.45" y="892.10" font-size="12.17" textLength="20.26" lengthAdjust="spacingAndGlyphs">00z</text>
<text x="887.61" y="877.40" font-size="12.17" textLength="31.64" lengthAdjust="spacingAndGlyphs">02Jun</text>
<text x="893.32" y="892.10" font-size="12.17" textLength="20.26" lengthAdjust="spacingAndGlyphs">00z</text>
<text x="938.48" y="877.40" font-size="12.17" textLength="31.64" lengthAdjust="spacingAndGlyphs">03Jun</text>
<text x="944.19" y="892.10" font-size="12.17" textLength="20.26" lengthAdjust="spacingAndGlyphs">00z</text>
<text x="989.35" y="877.40" font-size="12.17" textLength="31.64" lengthAdjust="spacingAndGlyphs">04Jun</text>
<text x="995.06" y="892.10" font-size="12.17" textLength="20.26" lengthAdjust="spacingAndGlyphs">00z</text>
<text x="1040.22" y="877.40" font-size="12.17" textLength="31.64" lengthAdjust="spacingAndGlyphs">05Jun</text>
<text x="1045.93" y="892.10" font-size="12.17" textLength="20.26" lengthAdjust="spacingAndGlyphs">00z</text>
<text x="1091.09" y="877.40" font-size="12.17" textLength="31.64" lengthAdjust="spacingAndGlyphs">06Jun</text>
<text x="1096.80" y="892.10" font-size="12.17" textLength="20.26" lengthAdjust="spacingAndGlyphs">00z</text>
<text x="1141.96" y="877.40" font-size="12.17" textLength="31.64" lengthAdjust="spacingAndGlyphs">07Jun</text>
<text x="1147.67" y="892.10" font-size="12.17" textLength="20.26" lengthAdjust="spacingAndGlyphs">00z</text>
<path d="M661.10 855.50h-6.9M661.10 794.50h-6.9M661.10 733.50h-6.9M661.10 672.50h-6.9M661.10 611.50h-6.9" stroke="#000" stroke-width="1.1" fill="none"/>
<path d="M661.10 840.50h-3.5M661.10 825.50h-3.5M661.10 809.50h-3.5M661.10 779.50h-3.5M661.10 764.50h-3.5M661.10 748.50h-3.5M661.10 718.50h-3.5M661.10 703.50h-3.5M661.10 687.50h-3.5M661.10 657.50h-3.5M661.10 642.50h-3.5M661.10 626.50h-3.5" stroke="#000" stroke-width="0.95" fill="none"/>
<text x="634.72" y="859.90" font-size="12.17" textLength="13.97" lengthAdjust="spacingAndGlyphs">20</text>
<text x="634.79" y="798.90" font-size="12.17" textLength="13.89" lengthAdjust="spacingAndGlyphs">40</text>
<text x="634.68" y="737.90" font-size="12.17" textLength="14.01" lengthAdjust="spacingAndGlyphs">60</text>
<text x="634.75" y="676.90" font-size="12.17" textLength="13.94" lengthAdjust="spacingAndGlyphs">80</text>
<text x="627.59" y="615.90" font-size="12.17" textLength="21.10" lengthAdjust="spacingAndGlyphs">100</text>
<text x="531.99" y="733.60" font-size="14.61" textLength="182.78" lengthAdjust="spacingAndGlyphs" transform="rotate(-90 623.30 733.60)">700-500 hPa Humidity (%)</text>
<text x="1062.12" y="628.00" font-size="14.61" textLength="102.57" lengthAdjust="spacingAndGlyphs" font-weight="bold">Mid-Level RH</text>
<path d="M668.75 770.50H691.85" stroke="#993404" stroke-width="3.3" stroke-linecap="square" fill="none"/>
<text x="700.48" y="773.90" font-size="12.17" textLength="60.49" lengthAdjust="spacingAndGlyphs">00z 02 Jun</text>
<path d="M668.75 784.65H691.85" stroke="#cc4c02" stroke-width="3.3" stroke-linecap="square" fill="none"/>
<text x="700.53" y="788.05" font-size="12.17" textLength="60.44" lengthAdjust="spacingAndGlyphs">18z 01 Jun</text>
<path d="M668.75 798.80H691.85" stroke="#ec7014" stroke-width="3.3" stroke-linecap="square" fill="none"/>
<text x="700.53" y="802.20" font-size="12.17" textLength="60.44" lengthAdjust="spacingAndGlyphs">12z 01 Jun</text>
<path d="M668.75 812.95H691.85" stroke="#fe9929" stroke-width="3.3" stroke-linecap="square" fill="none"/>
<text x="700.48" y="816.35" font-size="12.17" textLength="60.49" lengthAdjust="spacingAndGlyphs">06z 01 Jun</text>
<path d="M668.75 827.10H691.85" stroke="#fec44f" stroke-width="3.3" stroke-linecap="square" fill="none"/>
<text x="700.48" y="830.50" font-size="12.17" textLength="60.49" lengthAdjust="spacingAndGlyphs">00z 01 Jun</text>
<path d="M668.75 841.25H691.85" stroke="#fee391" stroke-width="3.3" stroke-linecap="square" fill="none"/>
<text x="700.50" y="844.65" font-size="12.17" textLength="66.17" lengthAdjust="spacingAndGlyphs">18z 31 May</text>
<clipPath id="cp_trk"><rect x="66.50" y="335.80" width="509.00" height="508.60"/></clipPath>
<g clip-path="url(#cp_trk)">
<path d="M66.5 335.8 L220.0 335.8 L217.0 339.5 L223.0 342.5 L234.0 343.0 L235.0 348.0 L233.5 350.5 L240.0 354.0 L250.0 354.5 L256.0 351.5 L258.0 347.0 L268.0 346.5 L274.0 350.0 L280.0 355.0 L285.5 357.5 L279.0 358.5 L284.0 362.0 L285.0 365.0 L286.0 369.0 L282.0 374.0 L279.0 378.0 L277.0 383.0 L276.0 388.0 L276.5 394.0 L275.0 400.0 L273.0 406.0 L270.0 412.0 L265.0 417.0 L259.0 423.0 L254.0 430.0 L250.0 436.2 L243.8 442.5 L237.5 447.5 L230.0 453.8 L222.5 460.0 L217.5 465.0 L211.2 468.8 L203.8 472.5 L196.2 473.8 L190.0 472.5 L186.2 468.8 L181.2 468.1 L177.5 470.0 L175.0 473.8 L170.0 476.2 L165.0 477.5 L161.2 481.2 L157.5 486.2 L155.0 491.2 L152.5 495.0 L148.8 498.8 L143.8 501.2 L137.5 505.0 L131.2 508.8 L128.5 511.9 L133.5 515.0 L138.5 518.8 L141.0 522.5 L144.8 527.5 L149.8 532.5 L152.2 537.5 L152.9 542.5 L152.2 547.5 L153.5 551.9 L151.0 555.0 L148.5 557.5 L143.5 560.0 L138.5 560.0 L133.5 560.6 L128.5 562.5 L124.8 565.0 L122.2 566.2 L121.0 562.5 L121.0 557.5 L123.5 553.8 L122.2 550.0 L124.8 547.5 L121.6 545.0 L121.6 540.6 L124.8 541.2 L126.0 537.5 L123.5 533.8 L123.5 530.0 L121.0 527.5 L117.2 528.1 L113.5 526.2 L108.5 527.5 L103.5 523.8 L106.0 520.6 L109.8 518.8 L107.2 517.5 L109.1 513.8 L111.0 511.2 L107.2 508.8 L103.5 506.9 L99.8 505.6 L97.2 504.4 L91.0 506.2 L84.8 506.9 L78.5 510.0 L72.2 511.2 L68.5 513.8 L66.4 514.8 L66.4 505.0 L71.0 501.9 L73.5 498.8 L71.0 496.2 L66.4 493.8ZM66.4 534.4 L75.4 535.0 L74.8 538.1 L66.4 538.8ZM117.9 579.4 L121.0 578.1 L124.8 577.5 L124.1 578.8 L119.8 580.0ZM158.5 580.5 L163.0 577.5 L167.0 574.0 L170.0 574.0 L172.0 577.5 L176.0 577.0 L178.5 579.5 L180.5 584.0 L178.5 587.5 L177.5 592.0 L175.0 598.0 L172.0 600.0 L170.0 603.5 L168.5 600.0 L164.5 601.5 L163.0 598.5 L163.5 594.5 L167.0 593.0 L167.5 589.0 L165.5 587.0 L166.5 583.5 L163.0 582.0 L160.0 582.5ZM187.0 578.0 L191.0 573.0 L196.0 572.0 L202.0 570.0 L208.0 570.5 L211.0 573.0 L208.0 576.0 L205.0 578.0 L200.0 577.0 L196.0 579.0 L193.0 583.0 L190.5 584.5 L189.5 581.0ZM170.6 569.4 L175.0 566.9 L180.0 565.0 L186.2 560.0 L192.5 556.2 L197.5 555.6 L205.0 555.6 L211.2 554.4 L216.2 555.0 L220.0 556.2 L225.0 555.0 L227.5 550.0 L231.2 546.2 L235.0 542.5 L236.2 536.2 L239.0 534.0 L238.1 538.8 L240.0 541.2 L245.0 539.4 L250.0 538.1 L255.0 535.0 L260.0 530.0 L265.0 526.2 L267.5 521.2 L271.2 516.2 L271.9 510.0 L271.2 505.0 L273.1 500.0 L275.0 495.0 L277.5 491.9 L281.2 489.4 L282.5 492.5 L285.6 490.6 L286.2 495.0 L287.5 500.6 L291.2 503.8 L292.5 508.8 L291.2 515.0 L287.5 518.1 L285.0 522.5 L282.5 528.8 L281.9 535.0 L280.0 540.0 L276.2 542.5 L277.5 547.5 L278.8 551.9 L275.0 555.0 L272.5 559.4 L270.0 560.0 L272.5 553.8 L268.8 551.2 L266.2 555.0 L261.2 556.2 L260.0 561.2 L258.8 563.8 L257.5 560.0 L253.8 558.1 L250.0 561.2 L246.2 563.1 L242.5 562.5 L237.5 560.0 L235.0 560.0 L232.5 565.0 L235.0 567.5 L230.0 570.0 L227.5 573.8 L223.8 576.9 L220.0 575.0 L218.1 571.2 L220.0 567.5 L221.2 562.5 L218.8 560.0 L216.2 562.5 L210.0 562.5 L206.2 561.2 L200.0 563.8 L193.8 565.0 L187.5 566.2 L182.5 568.1 L178.8 570.0 L173.8 571.2ZM290.8 445.0 L296.7 447.5 L303.3 455.0 L311.7 459.2 L318.3 461.7 L326.7 461.7 L330.0 466.7 L324.2 470.8 L316.7 473.3 L310.8 477.5 L307.5 481.7 L298.3 475.8 L290.8 473.3 L283.3 475.8 L280.0 480.0 L282.5 484.2 L276.7 485.8 L273.3 487.5 L272.5 482.5 L270.0 479.2 L271.7 475.0 L276.7 474.2 L280.0 470.8 L276.7 469.2 L283.3 467.5 L287.5 463.3 L286.7 456.7ZM292.0 356.5 L296.0 356.0 L300.0 355.5 L303.5 353.0 L307.0 357.0 L307.5 363.0 L305.5 369.0 L307.5 376.0 L310.5 382.0 L314.0 390.0 L318.5 401.5 L313.0 400.0 L307.5 400.5 L304.0 405.0 L301.0 412.0 L299.2 416.7 L304.2 425.0 L305.8 430.0 L298.3 430.8 L295.0 437.5 L292.5 433.3 L294.2 423.3 L296.0 417.0 L295.0 412.0 L293.0 407.0 L295.0 400.0 L296.0 392.0 L295.0 386.0 L296.5 380.0 L292.0 374.0 L290.0 369.0 L292.5 363.0ZM302.0 345.8 L303.8 347.6 L302.0 349.4 L300.2 347.6ZM242.0 336.5 L248.0 337.0 L247.0 340.0 L243.0 340.0ZM445.7 335.7 L451.0 352.5 L454.7 364.5 L456.2 378.0 L459.2 381.0 L466.0 376.5 L473.5 370.5 L476.5 365.2 L476.5 360.0 L481.0 358.5 L491.5 356.2 L493.0 349.5 L499.0 344.2 L505.0 342.0 L512.5 342.0 L517.0 339.7 L514.7 335.7ZM442.0 390.7 L446.5 389.2 L450.2 386.2 L448.0 389.2 L443.5 391.8ZM67.4 746.1 L72.3 746.1 L71.3 752.7 L74.7 757.4 L75.1 763.1 L71.3 766.9 L67.4 768.8Z" fill="#cccccc"/>
<path d="M73.2 796.3 L75.6 797.9 L77.1 802.6 L74.0 798.7ZM75.6 792.4 L80.2 793.6 L81.0 795.6 L77.9 794.0ZM84.1 799.4 L87.2 797.1 L90.3 797.5 L86.4 800.2 L89.6 803.3 L87.2 805.7 L84.9 803.3ZM94.2 796.3 L96.6 797.1 L95.0 799.4ZM91.9 808.8 L93.8 808.0 L93.1 810.3ZM97.3 812.3 L106.7 812.3 L106.7 814.2 L105.1 816.6 L106.7 821.2 L105.9 825.1 L104.3 823.6 L103.6 818.1 L101.2 815.8 L98.1 814.2ZM106.7 815.0 L108.6 815.8 L109.4 825.9 L107.8 825.1ZM98.9 825.5 L102.8 825.9 L104.3 830.6 L105.1 835.2 L102.8 833.7 L101.2 829.0ZM72.4 820.8 L74.8 822.0 L79.4 823.2 L80.2 825.9 L77.9 828.2 L75.6 830.6 L73.2 831.7 L74.8 827.4 L72.4 825.9ZM70.9 828.2 L72.4 827.4 L71.7 831.3 L70.5 831.3ZM82.6 829.8 L86.4 829.8 L86.4 832.9 L84.1 836.0 L81.8 840.7 L78.7 843.0 L75.9 843.0 L76.3 840.7 L80.2 839.1 L81.0 834.4ZM91.1 829.8 L92.7 829.8 L91.9 834.4 L87.2 843.0 L86.1 843.0 L89.6 836.0ZM92.7 840.7 L95.8 838.7 L98.5 839.9 L98.1 842.2 L95.0 843.4 L91.9 842.6ZM69.3 801.4 L70.9 801.8 L70.1 802.9ZM85.7 813.1 L86.8 812.7 L91.9 817.7 L91.1 818.1Z" fill="#d2d2d2"/>
<ellipse cx="333.3" cy="461.7" rx="1.3" ry="0.7" fill="#dcdcdc"/>
<ellipse cx="340.0" cy="457.0" rx="1.1" ry="0.6" fill="#dcdcdc"/>
<ellipse cx="345.3" cy="454.2" rx="1.0" ry="0.6" fill="#dcdcdc"/>
<ellipse cx="354.2" cy="449.2" rx="1.3" ry="0.7" fill="#dcdcdc"/>
<ellipse cx="360.0" cy="446.7" rx="1.0" ry="0.6" fill="#dcdcdc"/>
<ellipse cx="368.3" cy="444.2" rx="1.0" ry="0.6" fill="#dcdcdc"/>
<ellipse cx="380.0" cy="440.0" rx="1.1" ry="0.6" fill="#dcdcdc"/>
<ellipse cx="385.0" cy="437.0" rx="1.1" ry="0.6" fill="#dcdcdc"/>
<path d="M182.5 446.2 L190.0 446.9 L189.4 450.0 L186.2 453.8 L183.1 451.9 Z" fill="#fff" />
<circle cx="233.0" cy="371.0" r="1.30" fill="#fff"/>
<circle cx="232.5" cy="377.0" r="1.00" fill="#fff"/>
<circle cx="270.0" cy="370.0" r="1.00" fill="#fff"/>
<circle cx="275.0" cy="375.0" r="1.00" fill="#fff"/>
<circle cx="241.5" cy="345.2" r="0.90" fill="#fff"/>
<circle cx="269.0" cy="355.0" r="0.90" fill="#fff"/>
<path d="M215.0 410.0 L212.5 418.8 L207.5 423.8 L205.0 431.2 L200.0 437.5 L195.0 443.8 L192.5 448.8 L188.8 447.5M207.5 427.5 L215.0 425.0 L223.8 428.8 L232.5 427.5 L240.0 423.8 L246.2 421.2 L250.0 417.5M241.2 415.0 L250.0 412.5M182.5 446.2 L177.5 447.5 L171.2 451.2 L172.5 458.8 L173.8 466.2 L171.2 472.5 L165.0 476.2M100.0 443.8 L107.5 442.5 L116.2 445.0 L125.0 450.0 L131.2 455.0 L137.5 458.8 L142.5 456.2 L147.5 465.0 L155.0 461.2 L162.5 460.0 L167.5 465.0 L172.5 466.2M100.0 470.0 L103.8 475.0 L107.5 482.5 L111.2 492.5 L107.5 497.5 L100.0 501.2M111.2 492.5 L117.5 490.0 L123.8 486.2 L131.2 487.5 L138.8 483.8 L146.2 482.5 L152.5 477.5 L158.8 472.5 L161.2 475.0 L165.0 476.2M123.8 486.2 L127.5 492.5 L132.5 497.5 L141.2 496.2 L147.5 492.5 L146.2 486.2 L146.2 482.5M131.2 493.8 L130.0 500.0 L125.0 505.0 L122.5 512.0M147.5 492.5 L148.8 498.8M66.0 354.8 L73.5 354.8 L82.2 353.5 L91.0 354.8 L101.0 357.2 L107.2 361.0 L116.0 363.5 L119.8 368.5 L124.8 377.2 L128.5 383.5 L132.2 391.0 L136.0 396.0 L143.5 397.2 L153.5 398.5 L164.8 401.0 L166.0 406.0 L168.5 411.0 L166.0 416.0 L171.0 418.5 L178.5 418.5 L191.0 416.0 L203.5 413.5 L212.2 411.0 L216.0 409.8M183.5 336.0 L176.0 341.0 L168.5 344.8 L164.8 348.5 L169.8 351.0 L176.0 353.5 L178.5 357.2 L186.0 357.2 L197.2 354.8 L207.2 353.5 L213.5 354.8 L214.8 359.8 L209.8 363.5 L201.0 363.5 L196.0 368.5 L188.5 371.0 L178.5 373.5 L173.5 378.5 L168.5 383.5 L171.0 388.5 L176.0 392.2 L176.0 398.5 L178.5 401.0 L184.8 399.8 L191.0 402.2 L197.2 404.8 L203.5 406.0 L209.8 408.5 L216.0 409.8M133.5 347.2 L141.0 342.2 L151.0 341.6M66.0 366.0 L72.2 367.2 L78.5 369.8 L77.2 374.8 L84.8 378.5 L94.8 378.5 L101.0 377.2M106.0 392.2 L101.0 401.0 L97.2 408.5 L91.0 413.5 L84.8 417.2 L78.5 422.2 L76.0 426.0 L82.2 429.8 L88.5 428.5 L91.0 436.0 L94.8 441.0 L102.2 444.8M66.0 438.5 L72.2 439.8 L78.5 439.8M71.0 341.0 L73.5 347.2 L72.2 353.5M200.0 354.0 L207.0 353.5 L213.0 353.5 L215.0 357.0 L213.0 362.0 L211.0 366.0 L200.0 364.5M200.0 407.5 L210.0 409.0 L215.0 409.5 L213.0 413.0 L200.0 410.0M241.5 414.5 L245.0 413.0 L252.0 411.0 L254.5 412.5 L256.0 415.0 L258.0 418.0 L256.0 420.0M241.5 414.5 L244.0 417.0 L247.0 420.0M97.2 504.4 L102.2 501.2 L109.8 496.9 L116.0 492.5 L121.0 487.5 L124.8 485.0 L128.5 487.5 L133.5 488.8 L138.5 488.8 L141.0 485.0 L143.5 482.5 L148.5 481.2 L153.5 480.0M107.2 480.0 L108.5 486.2 L112.2 492.5 L109.8 496.9M146.0 483.8 L147.2 491.2 L148.5 497.5M131.0 492.5 L133.5 498.8 L141.0 496.2 L146.0 492.5M109.8 496.9 L116.0 503.8 L121.0 505.0 L127.2 501.2 L131.0 492.5M127.2 501.2 L126.0 508.8 L123.5 512.5 L128.5 511.9M109.8 518.8 L116.0 516.2 L122.2 516.2 L124.8 520.0 L131.0 523.8 L139.8 523.8 L141.0 522.5M123.5 530.0 L128.5 526.2 L133.5 530.0 L134.8 533.8 L132.2 537.5 L128.5 538.8 L126.0 537.5M132.2 537.5 L136.0 536.2 L143.5 537.5 L151.0 538.8M131.0 541.2 L136.0 542.5 L138.5 540.0 L146.0 538.8 L151.0 542.5 L152.2 547.5M136.0 542.5 L137.2 548.8 L141.0 552.5 L147.2 553.8 L152.2 552.5M124.8 547.5 L131.0 548.8 L137.2 550.0M133.5 552.5 L134.1 558.8M121.0 557.5 L128.5 558.8 L133.5 557.5M113.5 526.2 L112.2 521.2 L116.0 516.2M111.0 511.2 L116.0 513.8 L122.2 516.2M271.9 498.8 L281.2 500.0 L287.5 500.6M280.6 500.0 L280.0 508.8 L278.8 516.2 L277.5 522.5 L275.0 528.8M270.6 515.6 L278.8 516.9 L286.9 518.1M267.5 528.8 L275.0 529.4 L281.9 530.0M262.5 533.8 L263.8 540.0 L270.0 537.5 L275.0 538.8 L276.2 542.5M255.0 542.5 L256.2 547.5 L262.5 548.8 L268.8 550.0 L277.5 551.9M245.0 539.4 L246.2 546.2 L245.0 552.5 L243.8 557.5 L250.0 561.2M236.2 538.8 L237.5 545.0 L242.5 550.0 L243.8 557.5M227.5 550.0 L232.5 551.2 L237.5 555.0 L235.0 560.0M216.2 555.0 L220.0 561.2 L221.2 567.5M225.0 556.2 L226.2 561.2 L230.0 562.5 L231.2 557.5 L227.5 555.6M205.0 555.6 L207.5 561.2M197.5 556.2 L196.2 561.2 L197.5 565.0M186.2 560.0 L187.5 566.2M180.0 565.0 L182.5 568.1M256.2 547.5 L252.5 551.2 L253.8 558.1M262.5 548.8 L261.2 556.2M192.5 575.0 L200.0 573.8 L208.8 571.2M197.5 578.8 L200.0 573.8M162.5 580.0 L167.5 578.8 L172.5 580.0 L175.0 585.0M167.5 578.8 L168.8 585.0 L167.5 591.2M229.0 397.0 L236.0 392.0 L242.0 390.0M268.0 371.0 L272.0 369.0M271.0 375.5 L279.0 375.0" fill="none" stroke="#fff" stroke-width="0.95" stroke-linejoin="round"/>
<circle cx="126.6" cy="532.2" r="1.0" fill="none" stroke="#fff" stroke-width="0.6"/>
<circle cx="144.1" cy="550.9" r="1.1" fill="none" stroke="#fff" stroke-width="0.6"/>
<circle cx="129.1" cy="545.0" r="0.8" fill="none" stroke="#fff" stroke-width="0.6"/>
<circle cx="124.8" cy="558.1" r="0.8" fill="none" stroke="#fff" stroke-width="0.6"/>
</g>
<g clip-path="url(#cp_trk)">
<path d="M348.5 841.4 C348.3 838.8 349.2 831.4 347.6 826.7 C346.0 822.0 342.1 819.0 339.7 815.4 C337.3 811.7 337.1 809.5 334.3 806.3 C331.5 803.1 328.7 799.8 324.4 797.5 C320.1 795.2 316.8 795.4 310.5 793.5 C304.2 791.7 298.2 789.1 289.5 787.3 C280.9 785.5 272.6 785.3 262.3 783.3 C252.0 781.4 244.0 779.2 232.3 776.5 C220.6 773.8 208.6 770.5 197.4 768.3 C186.3 766.1 179.6 766.0 170.5 764.4 C161.4 762.7 154.0 761.4 146.7 759.3 C139.5 757.1 135.5 756.2 130.3 752.5 C125.0 748.7 120.9 742.2 117.5 738.6 C114.1 734.9 113.5 734.5 111.3 732.0 C109.1 729.6 106.6 727.3 105.3 725.0 C104.1 722.7 103.8 722.4 104.2 719.3 C104.6 716.2 106.3 711.7 107.3 708.0 C108.4 704.2 108.9 703.1 110.2 698.3 C111.4 693.5 110.8 688.3 114.4 681.3 C118.0 674.3 123.3 665.7 130.0 659.3 C136.7 652.9 147.7 648.1 151.6 645.7" fill="none" stroke="#222222" stroke-width="2.6" stroke-linejoin="round"/>
<circle cx="111.3" cy="689.3" r="3.60" fill="#fee391"/>
<circle cx="114.4" cy="681.3" r="3.60" fill="#fec44f"/>
<circle cx="116.7" cy="670.0" r="3.60" fill="#fe9929"/>
<circle cx="125.3" cy="660.0" r="3.60" fill="#ec7014"/>
<circle cx="140.7" cy="653.3" r="3.60" fill="#cc4c02"/>
<path d="M151.6 645.7 L193.0 636.5 L236.0 618.5 L302.6 583.3 L312.7 577.8 L334.7 571.3 L353.0 565.8 L375.0 553.0 L401.7 536.3" fill="none" stroke="#993404" stroke-width="2.50" stroke-linejoin="round" />
<path d="M140.7 653.3 L152.5 647.0 L195.0 635.5 L236.6 618.6 L302.6 583.3 L312.7 577.8 L334.7 571.3 L353.0 565.8 L376.0 553.0 L410.3 537.5" fill="none" stroke="#cc4c02" stroke-width="2.50" stroke-linejoin="round" />
<path d="M125.3 660.0 L152.0 646.5 L195.3 634.7 L236.6 617.0 L300.0 583.5 L417.5 522.5 L470.0 494.5" fill="none" stroke="#ec7014" stroke-width="2.50" stroke-linejoin="round" />
<path d="M116.7 670.0 L128.0 665.0 L151.6 646.0 L190.7 637.7 L232.0 615.3 L296.2 584.2 L415.0 530.0 L472.5 504.4 L523.3 493.3" fill="none" stroke="#fe9929" stroke-width="2.50" stroke-linejoin="round" />
<path d="M114.4 681.3 L128.0 664.5 L151.0 645.0 L185.6 636.7 L238.4 609.8 L314.5 569.9 L410.0 526.3 L470.8 500.5" fill="none" stroke="#fec44f" stroke-width="2.50" stroke-linejoin="round" />
<path d="M111.3 689.3 L114.2 681.5 L127.5 665.5 L150.5 644.5 L194.7 632.9 L224.7 609.5 L289.4 582.3 L403.3 529.2 L472.0 503.7 L530.5 489.5" fill="none" stroke="#fee391" stroke-width="2.50" stroke-linejoin="round" />
<path d="M174.4 636.0 L359.4 556.1" fill="none" stroke="#808080" stroke-width="3.20" stroke-linejoin="round" />
<circle cx="348.5" cy="841.4" r="2.85" fill="#fff" stroke="#222" stroke-width="1.25"/>
<circle cx="347.6" cy="826.7" r="3.60" fill="#222"/>
<circle cx="339.7" cy="815.4" r="2.85" fill="#fff" stroke="#222" stroke-width="1.25"/>
<circle cx="334.3" cy="806.3" r="3.60" fill="#222"/>
<circle cx="324.4" cy="797.5" r="2.85" fill="#fff" stroke="#222" stroke-width="1.25"/>
<circle cx="310.5" cy="793.5" r="3.60" fill="#222"/>
<circle cx="289.5" cy="787.3" r="2.85" fill="#fff" stroke="#222" stroke-width="1.25"/>
<circle cx="262.3" cy="783.3" r="3.60" fill="#222"/>
<circle cx="232.3" cy="776.5" r="2.85" fill="#fff" stroke="#222" stroke-width="1.25"/>
<circle cx="197.4" cy="768.3" r="3.60" fill="#222"/>
<circle cx="170.5" cy="764.4" r="2.85" fill="#fff" stroke="#222" stroke-width="1.25"/>
<circle cx="146.7" cy="759.3" r="3.60" fill="#222"/>
<circle cx="130.3" cy="752.5" r="2.85" fill="#fff" stroke="#222" stroke-width="1.25"/>
<circle cx="117.5" cy="738.6" r="3.60" fill="#222"/>
<circle cx="111.3" cy="732.0" r="2.85" fill="#fff" stroke="#222" stroke-width="1.25"/>
<circle cx="105.3" cy="725.0" r="3.60" fill="#222"/>
<circle cx="104.2" cy="719.3" r="2.85" fill="#fff" stroke="#222" stroke-width="1.25"/>
<circle cx="107.3" cy="708.0" r="3.60" fill="#222"/>
<circle cx="110.2" cy="698.3" r="2.85" fill="#fff" stroke="#222" stroke-width="1.25"/>
<circle cx="114.4" cy="681.3" r="3.60" fill="#222"/>
<circle cx="130.0" cy="659.3" r="2.85" fill="#fff" stroke="#222" stroke-width="1.25"/>
<circle cx="151.6" cy="645.7" r="3.60" fill="#222"/>
<circle cx="114.2" cy="681.5" r="3.60" fill="#222"/>
<circle cx="127.5" cy="665.5" r="2.85" fill="#fff" stroke="#222" stroke-width="1.25"/>
<circle cx="150.5" cy="644.5" r="3.60" fill="#222"/>
<circle cx="194.7" cy="632.9" r="2.85" fill="#fff" stroke="#222" stroke-width="1.25"/>
<circle cx="224.7" cy="609.5" r="3.60" fill="#222"/>
<circle cx="289.4" cy="582.3" r="2.85" fill="#fff" stroke="#222" stroke-width="1.25"/>
<circle cx="403.3" cy="529.2" r="3.60" fill="#222"/>
<circle cx="530.5" cy="489.5" r="2.85" fill="#fff" stroke="#222" stroke-width="1.25"/>
<circle cx="128.0" cy="664.5" r="2.85" fill="#fff" stroke="#222" stroke-width="1.25"/>
<circle cx="151.0" cy="645.0" r="3.60" fill="#222"/>
<circle cx="185.6" cy="636.7" r="2.85" fill="#fff" stroke="#222" stroke-width="1.25"/>
<circle cx="238.4" cy="609.8" r="3.60" fill="#222"/>
<circle cx="314.5" cy="569.9" r="2.85" fill="#fff" stroke="#222" stroke-width="1.25"/>
<circle cx="410.0" cy="526.3" r="3.60" fill="#222"/>
<circle cx="128.0" cy="665.0" r="2.85" fill="#fff" stroke="#222" stroke-width="1.25"/>
<circle cx="151.6" cy="646.0" r="3.60" fill="#222"/>
<circle cx="190.7" cy="637.7" r="2.85" fill="#fff" stroke="#222" stroke-width="1.25"/>
<circle cx="232.0" cy="615.3" r="3.60" fill="#222"/>
<circle cx="296.2" cy="584.2" r="2.85" fill="#fff" stroke="#222" stroke-width="1.25"/>
<circle cx="415.0" cy="530.0" r="3.60" fill="#222"/>
<circle cx="523.3" cy="493.3" r="2.85" fill="#fff" stroke="#222" stroke-width="1.25"/>
<circle cx="152.0" cy="646.5" r="3.60" fill="#222"/>
<circle cx="195.3" cy="634.7" r="2.85" fill="#fff" stroke="#222" stroke-width="1.25"/>
<circle cx="236.6" cy="617.0" r="3.60" fill="#222"/>
<circle cx="300.0" cy="583.5" r="2.85" fill="#fff" stroke="#222" stroke-width="1.25"/>
<circle cx="417.5" cy="522.5" r="3.60" fill="#222"/>
<circle cx="152.5" cy="647.0" r="3.60" fill="#222"/>
<circle cx="195.0" cy="635.5" r="2.85" fill="#fff" stroke="#222" stroke-width="1.25"/>
<circle cx="236.6" cy="618.6" r="3.60" fill="#222"/>
<circle cx="302.6" cy="583.3" r="2.85" fill="#fff" stroke="#222" stroke-width="1.25"/>
<circle cx="410.3" cy="537.5" r="3.60" fill="#222"/>
<circle cx="193.0" cy="636.5" r="2.85" fill="#fff" stroke="#222" stroke-width="1.25"/>
<circle cx="236.0" cy="618.5" r="3.60" fill="#222"/>
<circle cx="302.6" cy="583.3" r="2.85" fill="#fff" stroke="#222" stroke-width="1.25"/>
<circle cx="401.7" cy="536.3" r="3.60" fill="#222"/>
<circle cx="174.4" cy="636.0" r="3.60" fill="#808080"/>
</g>
<rect x="66.50" y="335.80" width="509.00" height="508.60" fill="none" stroke="#000" stroke-width="1.1"/>
<path d="M104.50 844.80v6.9M160.50 844.80v6.9M216.50 844.80v6.9M271.50 844.80v6.9M327.50 844.80v6.9M383.50 844.80v6.9M439.50 844.80v6.9M494.50 844.80v6.9M550.50 844.80v6.9M66.10 840.50h-6.9M66.10 784.50h-6.9M66.10 728.50h-6.9M66.10 673.50h-6.9M66.10 617.50h-6.9M66.10 561.50h-6.9M66.10 505.50h-6.9M66.10 449.50h-6.9M66.10 394.50h-6.9M66.10 338.50h-6.9" stroke="#000" stroke-width="1.1" fill="none"/>
<text x="87.00" y="865.00" font-size="12.17" textLength="33.98" lengthAdjust="spacingAndGlyphs">125°E</text>
<text x="142.75" y="865.00" font-size="12.17" textLength="33.98" lengthAdjust="spacingAndGlyphs">130°E</text>
<text x="198.50" y="865.00" font-size="12.17" textLength="33.98" lengthAdjust="spacingAndGlyphs">135°E</text>
<text x="254.25" y="865.00" font-size="12.17" textLength="33.98" lengthAdjust="spacingAndGlyphs">140°E</text>
<text x="310.00" y="865.00" font-size="12.17" textLength="33.98" lengthAdjust="spacingAndGlyphs">145°E</text>
<text x="365.75" y="865.00" font-size="12.17" textLength="33.98" lengthAdjust="spacingAndGlyphs">150°E</text>
<text x="421.50" y="865.00" font-size="12.17" textLength="33.98" lengthAdjust="spacingAndGlyphs">155°E</text>
<text x="477.25" y="865.00" font-size="12.17" textLength="33.98" lengthAdjust="spacingAndGlyphs">160°E</text>
<text x="533.00" y="865.00" font-size="12.17" textLength="33.98" lengthAdjust="spacingAndGlyphs">165°E</text>
<text x="26.02" y="844.70" font-size="12.17" textLength="28.21" lengthAdjust="spacingAndGlyphs">10°N</text>
<text x="26.02" y="788.91" font-size="12.17" textLength="28.21" lengthAdjust="spacingAndGlyphs">15°N</text>
<text x="25.93" y="733.12" font-size="12.17" textLength="28.30" lengthAdjust="spacingAndGlyphs">20°N</text>
<text x="25.93" y="677.33" font-size="12.17" textLength="28.30" lengthAdjust="spacingAndGlyphs">25°N</text>
<text x="26.12" y="621.54" font-size="12.17" textLength="28.10" lengthAdjust="spacingAndGlyphs">30°N</text>
<text x="26.12" y="565.75" font-size="12.17" textLength="28.10" lengthAdjust="spacingAndGlyphs">35°N</text>
<text x="26.00" y="509.96" font-size="12.17" textLength="28.23" lengthAdjust="spacingAndGlyphs">40°N</text>
<text x="26.00" y="454.17" font-size="12.17" textLength="28.23" lengthAdjust="spacingAndGlyphs">45°N</text>
<text x="26.11" y="398.38" font-size="12.17" textLength="28.12" lengthAdjust="spacingAndGlyphs">50°N</text>
<text x="26.11" y="342.59" font-size="12.17" textLength="28.12" lengthAdjust="spacingAndGlyphs">55°N</text>
<text x="526.59" y="354.70" font-size="14.61" textLength="42.00" lengthAdjust="spacingAndGlyphs" font-weight="bold">Track</text>
<path d="M73.75 348.30H96.85" stroke="#222222" stroke-width="3.3" stroke-linecap="square" fill="none"/>
<text x="105.40" y="351.70" font-size="12.17" textLength="29.75" lengthAdjust="spacingAndGlyphs">BEST</text>
<path d="M73.75 362.45H96.85" stroke="#993404" stroke-width="3.3" stroke-linecap="square" fill="none"/>
<text x="105.48" y="365.85" font-size="12.17" textLength="60.49" lengthAdjust="spacingAndGlyphs">00z 02 Jun</text>
<path d="M73.75 376.60H96.85" stroke="#cc4c02" stroke-width="3.3" stroke-linecap="square" fill="none"/>
<text x="105.53" y="380.00" font-size="12.17" textLength="60.44" lengthAdjust="spacingAndGlyphs">18z 01 Jun</text>
<path d="M73.75 390.75H96.85" stroke="#ec7014" stroke-width="3.3" stroke-linecap="square" fill="none"/>
<text x="105.53" y="394.15" font-size="12.17" textLength="60.44" lengthAdjust="spacingAndGlyphs">12z 01 Jun</text>
<path d="M73.75 404.90H96.85" stroke="#fe9929" stroke-width="3.3" stroke-linecap="square" fill="none"/>
<text x="105.48" y="408.30" font-size="12.17" textLength="60.49" lengthAdjust="spacingAndGlyphs">06z 01 Jun</text>
<path d="M73.75 419.05H96.85" stroke="#fec44f" stroke-width="3.3" stroke-linecap="square" fill="none"/>
<text x="105.48" y="422.45" font-size="12.17" textLength="60.49" lengthAdjust="spacingAndGlyphs">00z 01 Jun</text>
<path d="M73.75 433.20H96.85" stroke="#fee391" stroke-width="3.3" stroke-linecap="square" fill="none"/>
<text x="105.50" y="436.60" font-size="12.17" textLength="66.17" lengthAdjust="spacingAndGlyphs">18z 31 May</text>
<path d="M73.75 447.35H96.85" stroke="#808080" stroke-width="3.3" stroke-linecap="square" fill="none"/>
<text x="104.43" y="450.75" font-size="12.17" textLength="30.56" lengthAdjust="spacingAndGlyphs">JTWC</text>
<defs><linearGradient id="lg" x1="0" y1="0" x2="1" y2="0"><stop offset="0" stop-color="#1f2f7c"/><stop offset="0.4" stop-color="#1c4a9a"/><stop offset="1" stop-color="#2a66b0"/></linearGradient><radialGradient id="gl" cx="0.35" cy="0.4" r="0.75"><stop offset="0" stop-color="#a9b9ad"/><stop offset="0.45" stop-color="#5578a6"/><stop offset="1" stop-color="#223a86"/></radialGradient><clipPath id="cpl"><circle cx="90" cy="883" r="15"/></clipPath></defs>
<text x="3.6" y="894" font-size="34.6" font-weight="bold" fill="url(#lg)" textLength="71" lengthAdjust="spacingAndGlyphs">CIRA</text>
<circle cx="16.2" cy="882" r="7.7" fill="url(#gl)"/>
<path d="M11 878 q3 -3 6 -1 q-1 3 1 5 q-3 3 -5 1 q-3 -2 -2 -5z" fill="#b8c2a8" opacity="0.55"/>
<path d="M17 884 q3 0 4 3 q-2 2 -4 0z" fill="#3b62b4" opacity="0.7"/>
<path d="M57.5 889.5 L63.2 875 L68.5 889.5 Z" fill="#2a60ab"/>
<path d="M58.5 886.5 L65.5 883.5 L64 894 L60.5 894 Z" fill="#e3eaf3" opacity="0.92"/>
<path d="M41 874 l2.5 6" stroke="#c9d6e8" stroke-width="1.3" opacity="0.85"/>
<g clip-path="url(#cpl)"><rect x="74" y="867" width="32" height="32" fill="#1f8fd6"/><path d="M74 893 L80 886 L84 884 L88 887 L93 882 L97 885 L103 889 L106 888 L106 899 L74 899 Z" fill="#3a3ea2"/><path d="M77 891 Q90 887 104 892" stroke="#e8ecf8" stroke-width="0.7" fill="none"/><ellipse cx="83" cy="879.5" rx="3.4" ry="1.5" fill="#eef4fb"/><ellipse cx="93.5" cy="876.5" rx="4" ry="1.7" fill="#eef4fb"/><path d="M100 890 l3 -3 l0.8 1 l-2 3 z" fill="#fff"/></g>
<text x="82" y="895.6" font-size="3.6" font-weight="bold" fill="#e8ecf8" textLength="15" lengthAdjust="spacingAndGlyphs">RAMMB</text>
</svg>
</body></html>
